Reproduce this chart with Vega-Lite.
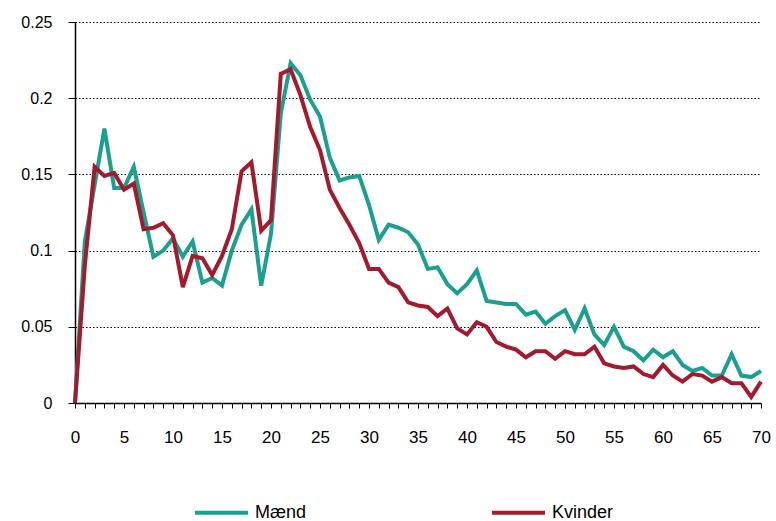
{
  "$schema": "https://vega.github.io/schema/vega-lite/v6.json",
  "width": 686,
  "height": 381,
  "autosize": {"type": "none"},
  "padding": {"left": 75, "top": 22, "right": 15, "bottom": 118},
  "config": {"view": {"stroke": null}, "font": "Liberation Sans"},
  "data": {"values": [
    {"alder":0,"serie":"Mænd","andel":0},{"alder":1,"serie":"Mænd","andel":0.106},{"alder":2,"serie":"Mænd","andel":0.143},{"alder":3,"serie":"Mænd","andel":0.180},{"alder":4,"serie":"Mænd","andel":0.141},{"alder":5,"serie":"Mænd","andel":0.141},{"alder":6,"serie":"Mænd","andel":0.155},{"alder":7,"serie":"Mænd","andel":0.125},{"alder":8,"serie":"Mænd","andel":0.096},{"alder":9,"serie":"Mænd","andel":0.100},
    {"alder":10,"serie":"Mænd","andel":0.108},{"alder":11,"serie":"Mænd","andel":0.096},{"alder":12,"serie":"Mænd","andel":0.106},{"alder":13,"serie":"Mænd","andel":0.079},{"alder":14,"serie":"Mænd","andel":0.082},{"alder":15,"serie":"Mænd","andel":0.077},{"alder":16,"serie":"Mænd","andel":0.100},{"alder":17,"serie":"Mænd","andel":0.117},{"alder":18,"serie":"Mænd","andel":0.127},{"alder":19,"serie":"Mænd","andel":0.077},
    {"alder":20,"serie":"Mænd","andel":0.111},{"alder":21,"serie":"Mænd","andel":0.190},{"alder":22,"serie":"Mænd","andel":0.223},{"alder":23,"serie":"Mænd","andel":0.215},{"alder":24,"serie":"Mænd","andel":0.199},{"alder":25,"serie":"Mænd","andel":0.188},{"alder":26,"serie":"Mænd","andel":0.161},{"alder":27,"serie":"Mænd","andel":0.146},{"alder":28,"serie":"Mænd","andel":0.148},{"alder":29,"serie":"Mænd","andel":0.149},
    {"alder":30,"serie":"Mænd","andel":0.130},{"alder":31,"serie":"Mænd","andel":0.107},{"alder":32,"serie":"Mænd","andel":0.117},{"alder":33,"serie":"Mænd","andel":0.115},{"alder":34,"serie":"Mænd","andel":0.112},{"alder":35,"serie":"Mænd","andel":0.104},{"alder":36,"serie":"Mænd","andel":0.088},{"alder":37,"serie":"Mænd","andel":0.089},{"alder":38,"serie":"Mænd","andel":0.078},{"alder":39,"serie":"Mænd","andel":0.072},
    {"alder":40,"serie":"Mænd","andel":0.078},{"alder":41,"serie":"Mænd","andel":0.087},{"alder":42,"serie":"Mænd","andel":0.067},{"alder":43,"serie":"Mænd","andel":0.066},{"alder":44,"serie":"Mænd","andel":0.065},{"alder":45,"serie":"Mænd","andel":0.065},{"alder":46,"serie":"Mænd","andel":0.058},{"alder":47,"serie":"Mænd","andel":0.060},{"alder":48,"serie":"Mænd","andel":0.052},{"alder":49,"serie":"Mænd","andel":0.057},
    {"alder":50,"serie":"Mænd","andel":0.061},{"alder":51,"serie":"Mænd","andel":0.048},{"alder":52,"serie":"Mænd","andel":0.062},{"alder":53,"serie":"Mænd","andel":0.045},{"alder":54,"serie":"Mænd","andel":0.038},{"alder":55,"serie":"Mænd","andel":0.050},{"alder":56,"serie":"Mænd","andel":0.037},{"alder":57,"serie":"Mænd","andel":0.034},{"alder":58,"serie":"Mænd","andel":0.028},{"alder":59,"serie":"Mænd","andel":0.035},
    {"alder":60,"serie":"Mænd","andel":0.030},{"alder":61,"serie":"Mænd","andel":0.034},{"alder":62,"serie":"Mænd","andel":0.025},{"alder":63,"serie":"Mænd","andel":0.021},{"alder":64,"serie":"Mænd","andel":0.023},{"alder":65,"serie":"Mænd","andel":0.018},{"alder":66,"serie":"Mænd","andel":0.018},{"alder":67,"serie":"Mænd","andel":0.032},{"alder":68,"serie":"Mænd","andel":0.018},{"alder":69,"serie":"Mænd","andel":0.017},{"alder":70,"serie":"Mænd","andel":0.021},
    {"alder":0,"serie":"Kvinder","andel":0},{"alder":1,"serie":"Kvinder","andel":0.090},{"alder":2,"serie":"Kvinder","andel":0.155},{"alder":3,"serie":"Kvinder","andel":0.149},{"alder":4,"serie":"Kvinder","andel":0.151},{"alder":5,"serie":"Kvinder","andel":0.140},{"alder":6,"serie":"Kvinder","andel":0.144},{"alder":7,"serie":"Kvinder","andel":0.114},{"alder":8,"serie":"Kvinder","andel":0.115},{"alder":9,"serie":"Kvinder","andel":0.118},
    {"alder":10,"serie":"Kvinder","andel":0.110},{"alder":11,"serie":"Kvinder","andel":0.076},{"alder":12,"serie":"Kvinder","andel":0.0965},{"alder":13,"serie":"Kvinder","andel":0.095},{"alder":14,"serie":"Kvinder","andel":0.084},{"alder":15,"serie":"Kvinder","andel":0.0965},{"alder":16,"serie":"Kvinder","andel":0.114},{"alder":17,"serie":"Kvinder","andel":0.152},{"alder":18,"serie":"Kvinder","andel":0.158},{"alder":19,"serie":"Kvinder","andel":0.113},
    {"alder":20,"serie":"Kvinder","andel":0.120},{"alder":21,"serie":"Kvinder","andel":0.216},{"alder":22,"serie":"Kvinder","andel":0.219},{"alder":23,"serie":"Kvinder","andel":0.202},{"alder":24,"serie":"Kvinder","andel":0.181},{"alder":25,"serie":"Kvinder","andel":0.166},{"alder":26,"serie":"Kvinder","andel":0.140},{"alder":27,"serie":"Kvinder","andel":0.128},{"alder":28,"serie":"Kvinder","andel":0.117},{"alder":29,"serie":"Kvinder","andel":0.105},
    {"alder":30,"serie":"Kvinder","andel":0.088},{"alder":31,"serie":"Kvinder","andel":0.088},{"alder":32,"serie":"Kvinder","andel":0.079},{"alder":33,"serie":"Kvinder","andel":0.076},{"alder":34,"serie":"Kvinder","andel":0.066},{"alder":35,"serie":"Kvinder","andel":0.064},{"alder":36,"serie":"Kvinder","andel":0.063},{"alder":37,"serie":"Kvinder","andel":0.057},{"alder":38,"serie":"Kvinder","andel":0.062},{"alder":39,"serie":"Kvinder","andel":0.049},
    {"alder":40,"serie":"Kvinder","andel":0.045},{"alder":41,"serie":"Kvinder","andel":0.053},{"alder":42,"serie":"Kvinder","andel":0.050},{"alder":43,"serie":"Kvinder","andel":0.040},{"alder":44,"serie":"Kvinder","andel":0.037},{"alder":45,"serie":"Kvinder","andel":0.035},{"alder":46,"serie":"Kvinder","andel":0.030},{"alder":47,"serie":"Kvinder","andel":0.034},{"alder":48,"serie":"Kvinder","andel":0.034},{"alder":49,"serie":"Kvinder","andel":0.029},
    {"alder":50,"serie":"Kvinder","andel":0.034},{"alder":51,"serie":"Kvinder","andel":0.032},{"alder":52,"serie":"Kvinder","andel":0.032},{"alder":53,"serie":"Kvinder","andel":0.037},{"alder":54,"serie":"Kvinder","andel":0.026},{"alder":55,"serie":"Kvinder","andel":0.024},{"alder":56,"serie":"Kvinder","andel":0.023},{"alder":57,"serie":"Kvinder","andel":0.024},{"alder":58,"serie":"Kvinder","andel":0.019},{"alder":59,"serie":"Kvinder","andel":0.017},
    {"alder":60,"serie":"Kvinder","andel":0.025},{"alder":61,"serie":"Kvinder","andel":0.018},{"alder":62,"serie":"Kvinder","andel":0.014},{"alder":63,"serie":"Kvinder","andel":0.019},{"alder":64,"serie":"Kvinder","andel":0.018},{"alder":65,"serie":"Kvinder","andel":0.014},{"alder":66,"serie":"Kvinder","andel":0.017},{"alder":67,"serie":"Kvinder","andel":0.013},{"alder":68,"serie":"Kvinder","andel":0.013},{"alder":69,"serie":"Kvinder","andel":0.004},{"alder":70,"serie":"Kvinder","andel":0.014}
  ]},
  "mark": {"type": "line", "strokeWidth": 4},
  "encoding": {
    "x": {
      "field": "alder", "type": "quantitative",
      "scale": {"domain": [0, 70], "nice": false, "zero": false},
      "axis": {
        "title": null, "grid": false,
        "values": [0,1,2,3,4,5,6,7,8,9,10,11,12,13,14,15,16,17,18,19,20,21,22,23,24,25,26,27,28,29,30,31,32,33,34,35,36,37,38,39,40,41,42,43,44,45,46,47,48,49,50,51,52,53,54,55,56,57,58,59,60,61,62,63,64,65,66,67,68,69,70],
        "labelExpr": "datum.value % 5 === 0 ? datum.label : ''",
        "labelOverlap": false, "labelFlush": false,
        "domainColor": "black", "domainWidth": 1.5,
        "tickColor": "black", "tickSize": 5, "tickWidth": 1,
        "labelColor": "black", "labelFontSize": 17, "labelPadding": 21
      }
    },
    "y": {
      "field": "andel", "type": "quantitative",
      "scale": {"domain": [0, 0.25], "nice": false},
      "axis": {
        "title": null,
        "values": [0, 0.05, 0.1, 0.15, 0.2, 0.25],
        "format": "~g",
        "grid": true, "gridColor": "black", "gridDash": [1.5, 2], "gridWidth": 1.2, "gridOpacity": 1,
        "domainColor": "black", "domainWidth": 1.5,
        "tickColor": "black", "tickSize": 7,
        "labelColor": "black", "labelFontSize": 16, "labelPadding": 16
      }
    },
    "color": {
      "field": "serie", "type": "nominal",
      "scale": {"domain": ["Mænd", "Kvinder"], "range": ["#1BA08F", "#A31A2D"]},
      "legend": {
        "title": null, "orient": "none", "legendX": 118, "legendY": 462,
        "direction": "horizontal",
        "symbolType": "stroke", "symbolSize": 2809, "symbolStrokeWidth": 4,
        "labelFontSize": 18, "labelColor": "black", "labelOffset": 5,
        "columnPadding": 177
      }
    }
  }
}
